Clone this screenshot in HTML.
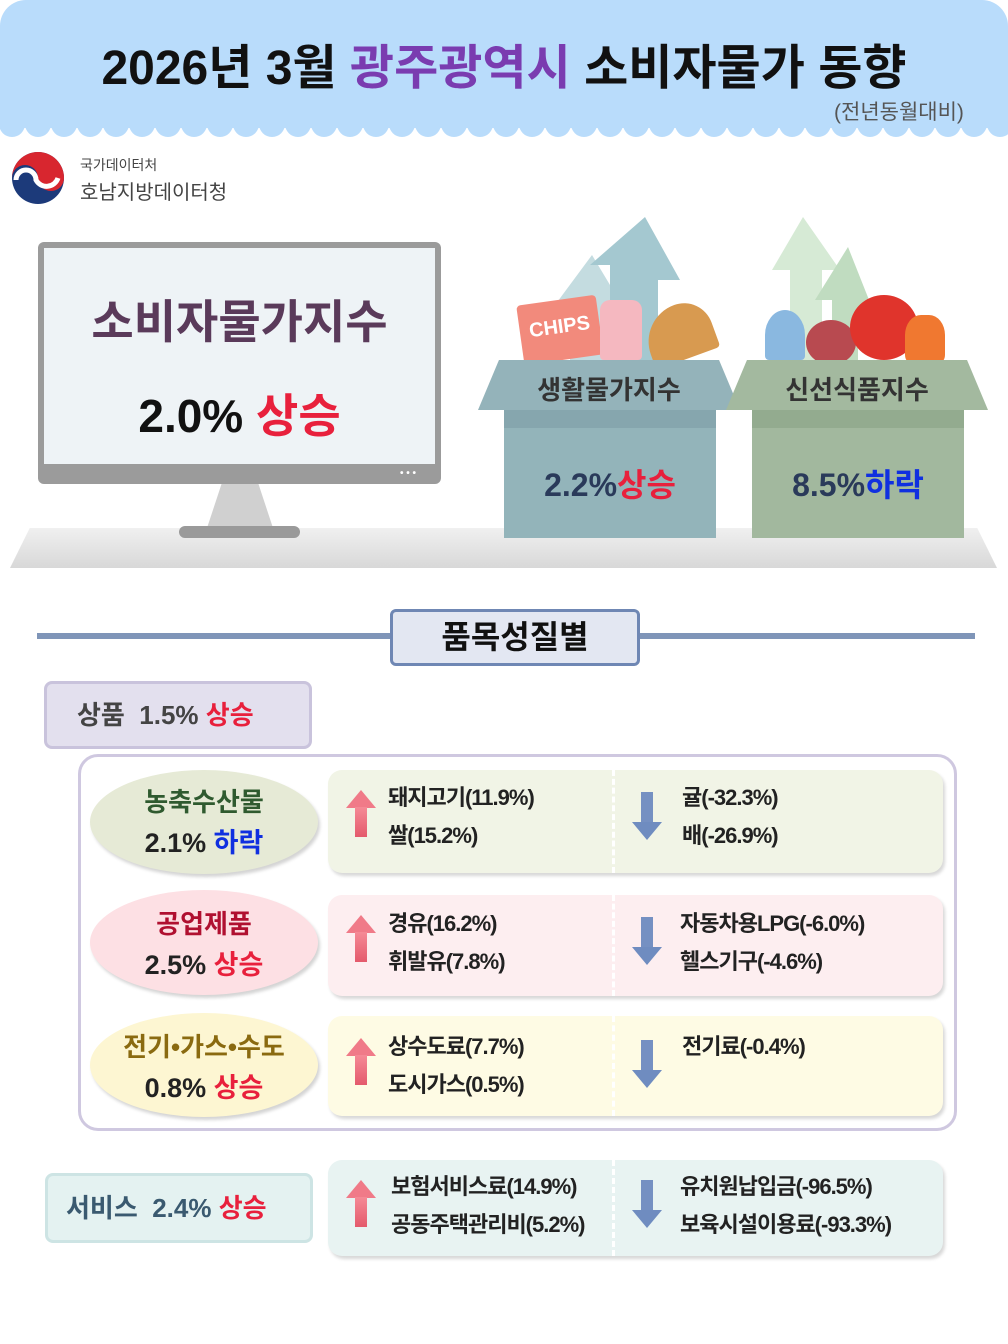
<!DOCTYPE html>
<html><head><meta charset="utf-8"><style>
*{margin:0;padding:0;box-sizing:border-box}
body{width:1008px;height:1344px;background:#fff;position:relative;overflow:hidden;font-family:"Liberation Sans","Noto Sans CJK KR",sans-serif}
.a{position:absolute}
.b{font-weight:bold}
.red{color:#e8203c}.blue{color:#1030e0}
.t{font-size:22px;font-weight:bold;color:#222;letter-spacing:-1px;line-height:38px}
.up{position:absolute;width:0;height:0;border-left:15px solid transparent;border-right:15px solid transparent;border-bottom:18px solid #f07a88}
.ups{position:absolute;width:12px;height:30px;background:linear-gradient(#f58a96,#e45a6c)}
.dn{position:absolute;width:0;height:0;border-left:15px solid transparent;border-right:15px solid transparent;border-top:18px solid #6f8cc0}
.dns{position:absolute;width:12px;height:30px;background:#7590c2}
.panel{position:absolute;left:328px;width:615px;border-radius:14px;box-shadow:2px 3px 3px #d8d8d8}
.div{position:absolute;left:284px;top:0;bottom:0;border-left:3px dashed #fff}
.ell{position:absolute;left:90px;width:228px;border-radius:50%;text-align:center;font-weight:bold;box-shadow:2px 3px 3px #d4d4d4}
</style></head><body>
<div class="a" style="left:0;top:0;width:1008px;height:128px;background:#b9dcfb;border-radius:26px 26px 0 0"></div>
<svg class="a" style="left:0;top:120px" width="1008" height="22">
<g fill="#b9dcfb">
<circle cx="12" cy="4" r="13"/><circle cx="38" cy="4" r="13"/><circle cx="64" cy="4" r="13"/><circle cx="90" cy="4" r="13"/><circle cx="116" cy="4" r="13"/><circle cx="142" cy="4" r="13"/><circle cx="168" cy="4" r="13"/><circle cx="194" cy="4" r="13"/><circle cx="220" cy="4" r="13"/><circle cx="246" cy="4" r="13"/><circle cx="272" cy="4" r="13"/><circle cx="298" cy="4" r="13"/><circle cx="324" cy="4" r="13"/><circle cx="350" cy="4" r="13"/><circle cx="376" cy="4" r="13"/><circle cx="402" cy="4" r="13"/><circle cx="428" cy="4" r="13"/><circle cx="454" cy="4" r="13"/><circle cx="480" cy="4" r="13"/><circle cx="506" cy="4" r="13"/><circle cx="532" cy="4" r="13"/><circle cx="558" cy="4" r="13"/><circle cx="584" cy="4" r="13"/><circle cx="610" cy="4" r="13"/><circle cx="636" cy="4" r="13"/><circle cx="662" cy="4" r="13"/><circle cx="688" cy="4" r="13"/><circle cx="714" cy="4" r="13"/><circle cx="740" cy="4" r="13"/><circle cx="766" cy="4" r="13"/><circle cx="792" cy="4" r="13"/><circle cx="818" cy="4" r="13"/><circle cx="844" cy="4" r="13"/><circle cx="870" cy="4" r="13"/><circle cx="896" cy="4" r="13"/><circle cx="922" cy="4" r="13"/><circle cx="948" cy="4" r="13"/><circle cx="974" cy="4" r="13"/><circle cx="1000" cy="4" r="13"/>
</g></svg>
<div class="a b" style="left:0;width:1008px;top:28px;text-align:center;font-size:48px;letter-spacing:0px;color:#111">2026년 3월 <span style="color:#7a3cb0">광주광역시</span> 소비자물가 동향</div>
<div class="a" style="left:834px;top:96px;font-size:21px;color:#555">(전년동월대비)</div>
<svg class="a" style="left:10px;top:150px" width="58" height="56"><circle cx="28" cy="28" r="26" fill="#1c3a7a"/><path d="M2 28 A26 26 0 0 1 54 28 A13 13 0 0 1 28 28 A13 13 0 0 0 2 28Z" fill="#d8262f"/><path d="M6 30 A10 10 0 0 1 26 30 A12 12 0 0 0 48 28" stroke="#fff" stroke-width="5" fill="none"/></svg>
<div class="a" style="left:80px;top:155px;font-size:14px;color:#444">국가데이터처</div>
<div class="a" style="left:80px;top:176px;font-size:20px;color:#444">호남지방데이터청</div>
<div class="a" style="left:10px;top:528px;width:987px;height:40px;background:linear-gradient(#f0f0f0,#d8d8d8);clip-path:polygon(2% 0,98% 0,100% 100%,0 100%)"></div>
<div class="a" style="left:38px;top:242px;width:403px;height:242px;background:#9b9b9b;border-radius:6px"></div>
<div class="a" style="left:44px;top:248px;width:391px;height:216px;background:#eef3f6"></div>
<div class="a" style="left:400px;top:468px;font-size:10px;color:#fff;font-weight:bold">• • •</div>
<div class="a" style="left:207px;top:484px;width:66px;height:44px;background:#d0d0d0;clip-path:polygon(22% 0,78% 0,100% 100%,0 100%)"></div>
<div class="a" style="left:179px;top:526px;width:121px;height:12px;background:#9a9a9a;border-radius:6px"></div>
<div class="a b" style="left:44px;width:391px;top:286px;text-align:center;font-size:46px;color:#5a3a5a">소비자물가지수</div>
<div class="a b" style="left:44px;width:391px;top:380px;text-align:center;font-size:46px;color:#111">2.0% <span class="red">상승</span></div>
<svg class="a" style="left:550px;top:215px" width="450" height="150">
<path d="M20 145 L20 90 L5 90 L42 40 L75 95 L58 95 L58 145Z" fill="#c4dce0"/>
<path d="M60 145 L60 50 L40 50 L95 2 L130 65 L108 65 L108 145Z" fill="#a4c8d0"/>
<path d="M240 145 L240 55 L222 55 L253 2 L290 55 L272 55 L272 145Z" fill="#d6ead5"/>
<path d="M282 145 L282 85 L265 85 L298 32 L323 95 L308 95 L308 145Z" fill="#c0dcc0"/>
</svg>
<div class="a" style="left:520px;top:300px;width:80px;height:60px;background:#f28a7c;border-radius:4px;transform:rotate(-8deg);color:#fff;font-weight:bold;font-size:20px;text-align:center;line-height:55px">CHIPS</div>
<div class="a" style="left:600px;top:300px;width:42px;height:60px;background:#f5b8c0;border-radius:10px 10px 4px 4px"></div>
<div class="a" style="left:645px;top:305px;width:68px;height:55px;background:#d89a50;border-radius:40px 30px 4px 4px;transform:rotate(-20deg)"></div>
<div class="a" style="left:765px;top:310px;width:40px;height:50px;background:#8ab8e0;border-radius:50% 50% 4px 4px"></div>
<div class="a" style="left:806px;top:320px;width:50px;height:45px;background:#b84a50;border-radius:50%"></div>
<div class="a" style="left:850px;top:295px;width:68px;height:65px;background:#e0342c;border-radius:50%"></div>
<div class="a" style="left:905px;top:315px;width:40px;height:50px;background:#f07830;border-radius:40% 40% 10px 10px"></div>
<div class="a" style="left:478px;top:360px;width:262px;height:50px;background:#94b3ba;clip-path:polygon(8% 0,92% 0,100% 100%,0 100%)"></div>
<div class="a" style="left:504px;top:410px;width:212px;height:128px;background:#93b4ba"></div>
<div class="a" style="left:504px;top:410px;width:212px;height:18px;background:#86a6ae"></div>
<div class="a b" style="left:478px;width:262px;top:370px;text-align:center;font-size:26px;color:#333">생활물가지수</div>
<div class="a b" style="left:504px;width:212px;top:460px;text-align:center;font-size:32px;color:#2a3a5a">2.2%<span class="red">상승</span></div>
<div class="a" style="left:726px;top:360px;width:262px;height:50px;background:#a3b99f;clip-path:polygon(8% 0,92% 0,100% 100%,0 100%)"></div>
<div class="a" style="left:752px;top:410px;width:212px;height:128px;background:#a2b89e"></div>
<div class="a" style="left:752px;top:410px;width:212px;height:18px;background:#93ab8f"></div>
<div class="a b" style="left:726px;width:262px;top:370px;text-align:center;font-size:26px;color:#333">신선식품지수</div>
<div class="a b" style="left:752px;width:212px;top:460px;text-align:center;font-size:32px;color:#2a3a5a">8.5%<span class="blue">하락</span></div>
<div class="a" style="left:37px;top:633px;width:938px;height:6px;background:#7f95b8"></div>
<div class="a b" style="left:390px;top:609px;width:250px;height:57px;background:#e3e7f2;border:3px solid #6f87b4;border-radius:6px;text-align:center;font-size:32px;line-height:50px;color:#111">품목성질별</div>
<div class="a b" style="left:44px;top:681px;width:268px;height:68px;background:#e3e0ee;border:3px solid #c9c3dc;border-radius:8px;font-size:26px;line-height:62px;padding-left:30px;color:#444">상품 &nbsp;1.5% <span class="red">상승</span></div>
<div class="a" style="left:78px;top:754px;width:879px;height:377px;border:3px solid #cfc8e0;border-radius:20px"></div>
<div class="ell" style="top:770px;height:104px;background:#e6ead6;padding-top:12px"><div style="font-size:26px;color:#2f5a2f">농축수산물</div><div style="font-size:27px;color:#222;margin-top:2px">2.1% <span class="blue">하락</span></div></div>
<div class="panel" style="top:770px;height:103px;background:#f1f4e6"><div class="div"></div></div>
<div class="ell" style="top:890px;height:105px;background:#fde0e4;padding-top:14px"><div style="font-size:26px;color:#b01030">공업제품</div><div style="font-size:27px;color:#222;margin-top:2px">2.5% <span class="red">상승</span></div></div>
<div class="panel" style="top:895px;height:101px;background:#fdeef0"><div class="div"></div></div>
<div class="ell" style="top:1013px;height:104px;background:#fdf6d2;padding-top:14px"><div style="font-size:26px;color:#8a6a10">전기•가스•수도</div><div style="font-size:27px;color:#222;margin-top:2px">0.8% <span class="red">상승</span></div></div>
<div class="panel" style="top:1016px;height:100px;background:#fefbe4"><div class="div"></div></div>
<div class="a b" style="left:45px;top:1173px;width:268px;height:70px;background:#e4f2f1;border:3px solid #cde4e4;border-radius:8px;font-size:26px;line-height:64px;padding-left:18px;color:#3a5a70">서비스 &nbsp;2.4% <span class="red">상승</span></div>
<div class="panel" style="top:1160px;height:96px;background:#e8f3f2"><div class="div"></div></div>
<div class="up" style="left:346px;top:790px"></div><div class="ups" style="left:355px;top:807px"></div>
<div class="dns" style="left:641px;top:792px"></div><div class="dn" style="left:632px;top:822px"></div>
<div class="up" style="left:346px;top:915px"></div><div class="ups" style="left:355px;top:932px"></div>
<div class="dns" style="left:641px;top:917px"></div><div class="dn" style="left:632px;top:947px"></div>
<div class="up" style="left:346px;top:1038px"></div><div class="ups" style="left:355px;top:1055px"></div>
<div class="dns" style="left:641px;top:1040px"></div><div class="dn" style="left:632px;top:1070px"></div>
<div class="up" style="left:346px;top:1180px"></div><div class="ups" style="left:355px;top:1197px"></div>
<div class="dns" style="left:641px;top:1180px"></div><div class="dn" style="left:632px;top:1210px"></div>
<div class="a t" style="left:388px;top:779px">돼지고기(11.9%)<br>쌀(15.2%)</div>
<div class="a t" style="left:682px;top:779px">귤(-32.3%)<br>배(-26.9%)</div>
<div class="a t" style="left:388px;top:905px">경유(16.2%)<br>휘발유(7.8%)</div>
<div class="a t" style="left:680px;top:905px">자동차용LPG(-6.0%)<br>헬스기구(-4.6%)</div>
<div class="a t" style="left:388px;top:1028px">상수도료(7.7%)<br>도시가스(0.5%)</div>
<div class="a t" style="left:682px;top:1028px">전기료(-0.4%)</div>
<div class="a t" style="left:391px;top:1168px">보험서비스료(14.9%)<br>공동주택관리비(5.2%)</div>
<div class="a t" style="left:680px;top:1168px">유치원납입금(-96.5%)<br>보육시설이용료(-93.3%)</div>
</body></html>
